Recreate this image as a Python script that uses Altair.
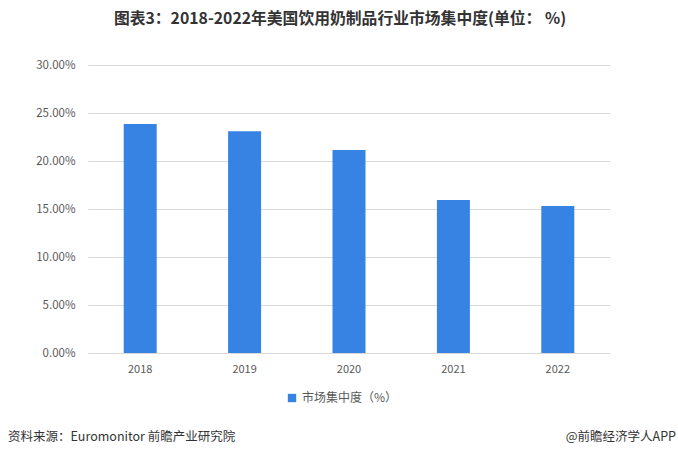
import altair as alt
import pandas as pd

years = ["2018", "2019", "2020", "2021", "2022"]
values = [0.2385, 0.2310, 0.2115, 0.1595, 0.1530]
series_name = "市场集中度（%）"
title_text = "图表3：2018-2022年美国饮用奶制品行业市场集中度(单位： %)"
source_text = "资料来源：Euromonitor 前瞻产业研究院"
brand_text = "@前瞻经济学人APP"

df = pd.DataFrame({"year": years, "value": values, "series": [series_name] * len(years)})

FONT = "Noto Sans CJK SC"
GRAY = "#595959"

bars = alt.Chart(df).mark_bar(color="#3683E3").encode(
    x=alt.X("year:N", sort=years,
            scale=alt.Scale(paddingInner=0.684, paddingOuter=0.342),
            axis=alt.Axis(title=None, labelAngle=0, ticks=False, domain=False, grid=False,
                          labelPadding=10, labelColor=GRAY, labelFontSize=11, labelFont=FONT)),
    y=alt.Y("value:Q", scale=alt.Scale(domain=[0, 0.30], nice=False),
            axis=alt.Axis(title=None, format=".2%", values=[0, 0.05, 0.10, 0.15, 0.20, 0.25, 0.30],
                          ticks=False, domain=False, labelPadding=13, labelColor=GRAY,
                          labelFontSize=11.5, labelFont=FONT, gridColor="#D9D9D9")),
    color=alt.Color("series:N", scale=alt.Scale(range=["#3683E3"]),
                    legend=alt.Legend(title=None, orient="none", legendX=198, legendY=327,
                                      symbolType="square", symbolSize=70, labelFontSize=12,
                                      labelColor=GRAY, labelFont=FONT, symbolStrokeWidth=0)),
)

src_df = pd.DataFrame({"t": [source_text]})
source = alt.Chart(src_df).mark_text(align="left", baseline="middle", fontSize=12.5, font=FONT, color="#333333").encode(
    text="t:N", x=alt.value(-80), y=alt.value(372))
brand_df = pd.DataFrame({"t": [brand_text]})
brand = alt.Chart(brand_df).mark_text(align="right", baseline="middle", fontSize=12.5, font=FONT, color="#333333").encode(
    text="t:N", x=alt.value(588), y=alt.value(372))

chart = alt.layer(bars, source, brand).properties(
    width=522, height=288,
    background="white",
    autosize=alt.AutoSizeParams(type="none"),
    padding={"left": 88, "top": 65, "right": 68, "bottom": 104},
    title=alt.TitleParams(title_text, font=FONT, fontSize=15.8, fontWeight="bold", color="#333333",
                          anchor="middle", offset=31, dx=-9),
).configure_view(stroke=None, strokeWidth=0)

chart.save("out.html", embed_options={"renderer": "svg", "actions": False})
